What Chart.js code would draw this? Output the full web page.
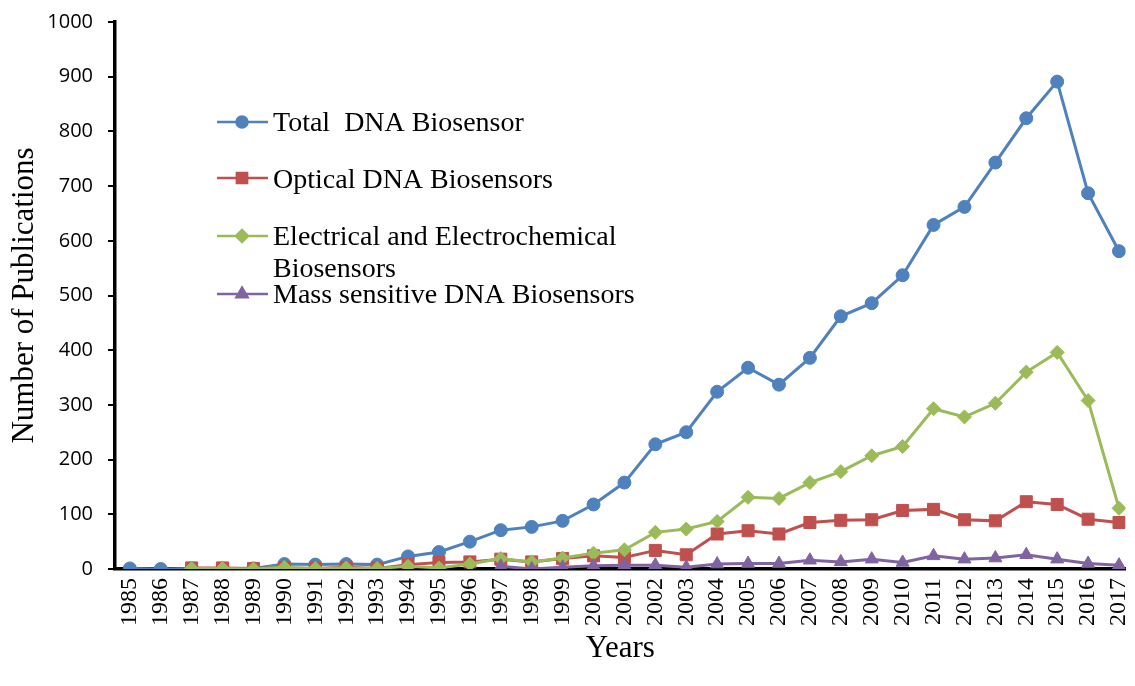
<!DOCTYPE html>
<html>
<head>
<meta charset="utf-8">
<title>DNA Biosensor Publications</title>
<script src="https://cdn.jsdelivr.net/npm/chart.js@4.4.1/dist/chart.umd.min.js"></script>
<style>
  html, body { margin: 0; padding: 0; background: #ffffff; }
  #wrap { width: 1135px; height: 686px; }
</style>
</head>
<body>
<div id="wrap"><canvas id="chart" width="1135" height="686"></canvas></div>
<script>
// Publication year
const years = [1985, 1986, 1987, 1988, 1989, 1990, 1991, 1992, 1993, 1994, 1995,
  1996, 1997, 1998, 1999, 2000, 2001, 2002, 2003, 2004, 2005, 2006,
  2007, 2008, 2009, 2010, 2011, 2012, 2013, 2014, 2015, 2016, 2017];

// Number of publications per year
const totalDNA = [1, 0, 1, 1, 1, 9, 8, 9, 8, 23, 31,
  50, 71, 77, 88, 118, 158, 228, 250, 324, 368, 337,
  386, 462, 486, 537, 629, 662, 743, 824, 891, 687, 581];
const opticalDNA = [null, null, 2, 2, 1, 2, 1, 3, 1, 8, 12,
  13, 18, 13, 19, 24, 21, 34, 26, 64, 70, 64,
  85, 89, 90, 107, 109, 90, 88, 123, 118, 91, 85];
const electroDNA = [null, null, 1, 1, 0, 3, 1, 2, 1, 5, 2,
  9, 19, 13, 20, 29, 35, 67, 73, 87, 131, 129,
  158, 178, 207, 224, 293, 278, 303, 360, 396, 308, 111];
const massDNA = [null, null, null, null, null, null, null, null, null, null, null,
  null, 5, 0, 3, 6, 7, 7, 3, 9, 10, 10,
  16, 13, 18, 12, 24, 18, 20, 26, 18, 10, 7];

// Axis ticks
const yTicks = [0, 100, 200, 300, 400, 500, 600, 700, 800, 900, 1000];

const seriesLabels = [
  ['Total  DNA Biosensor'],
  ['Optical DNA Biosensors'],
  ['Electrical and Electrochemical', 'Biosensors'],
  ['Mass sensitive DNA Biosensors']
];

const serif = "'Liberation Serif', 'Times New Roman', serif";
const sans = "'Open Sans', sans-serif";

function toPoints(values) {
  return years.map((y, i) => ({ x: y, y: values[i] }));
}

function series(label, values, color, style, radius, order) {
  return {
    label: label,
    data: toPoints(values),
    borderColor: color,
    backgroundColor: color,
    borderWidth: 3,
    pointStyle: style,
    pointRadius: radius,
    pointHoverRadius: radius,
    pointBackgroundColor: color,
    pointBorderColor: color,
    pointBorderWidth: 1,
    tension: 0,
    order: order
  };
}

// Legend drawn inside the plot area, with line + marker samples
const innerLegend = {
  id: 'innerLegend',
  afterDraw(chart) {
    const ctx = chart.ctx;
    const rows = [
      { lineY: 122, baselines: [131] },
      { lineY: 178, baselines: [188] },
      { lineY: 236, baselines: [245, 277] },
      { lineY: 294, baselines: [303] }
    ];
    ctx.save();
    chart.data.datasets.forEach((ds, i) => {
      const r = rows[i];
      ctx.strokeStyle = ds.borderColor;
      ctx.lineWidth = 2.5;
      ctx.beginPath();
      ctx.moveTo(217, r.lineY);
      ctx.lineTo(268, r.lineY);
      ctx.stroke();
      ctx.fillStyle = ds.backgroundColor;
      Chart.helpers.drawPoint(ctx, {
        pointStyle: ds.pointStyle,
        radius: ds.pointRadius * 0.85,
        rotation: 0,
        borderWidth: 1
      }, 242, r.lineY);
      ctx.fillStyle = '#000000';
      ctx.font = '28px ' + serif;
      ctx.textAlign = 'left';
      ctx.textBaseline = 'alphabetic';
      seriesLabels[i].forEach((line, k) => {
        ctx.fillText(line, 273, r.baselines[k]);
      });
    });
    ctx.restore();
  }
};

new Chart(document.getElementById('chart'), {
  type: 'line',
  data: {
    datasets: [
      series(seriesLabels[0].join(' '), totalDNA, '#4F81BD', 'circle', 6.5, 4),
      series(seriesLabels[1].join(' '), opticalDNA, '#C0504D', 'rect', 8.5, 3),
      series(seriesLabels[2].join(' '), electroDNA, '#9BBB59', 'rectRot', 7, 2),
      series(seriesLabels[3].join(' '), massDNA, '#8064A2', 'triangle', 7.5, 1)
    ]
  },
  options: {
    responsive: false,
    animation: false,
    devicePixelRatio: 1,
    layout: { padding: { top: 22, left: 0, right: 0, bottom: 0 } },
    plugins: {
      legend: { display: false },
      tooltip: { enabled: false }
    },
    scales: {
      x: {
        type: 'linear',
        min: 1984.52,
        max: 2017.21,
        afterBuildTicks(scale) {
          scale.ticks = years.map(v => ({ value: v }));
        },
        afterFit(scale) {
          scale.height = 117;
          scale.paddingLeft = 0;
          scale.paddingRight = 0;
        },
        ticks: {
          autoSkip: false,
          minRotation: 90,
          maxRotation: 90,
          padding: 9,
          color: '#000000',
          font: { family: serif, size: 24 },
          callback: v => String(v)
        },
        grid: { display: true, drawOnChartArea: false, drawTicks: false },
        border: { display: true, color: '#000000', width: 3.5 },
        title: {
          display: true,
          text: 'Years',
          color: '#000000',
          font: { family: serif, size: 31 },
          padding: { top: 0, bottom: 19 }
        }
      },
      y: {
        min: 0,
        max: 1000,
        afterBuildTicks(scale) {
          scale.ticks = yTicks.map(v => ({ value: v }));
        },
        afterFit(scale) {
          scale.width = 115;
          scale.paddingTop = 0;
          scale.paddingBottom = 0;
        },
        ticks: {
          padding: 15,
          color: '#000000',
          font: { family: sans, size: 20 },
          callback: v => String(v)
        },
        grid: {
          display: true,
          drawOnChartArea: false,
          drawTicks: true,
          tickLength: 7,
          color: '#000000',
          lineWidth: 2
        },
        border: { display: true, color: '#000000', width: 3.5 },
        title: {
          display: true,
          text: 'Number of Publications',
          color: '#000000',
          font: { family: serif, size: 31 },
          padding: { top: 6, bottom: 0 }
        }
      }
    }
  },
  plugins: [innerLegend]
});
</script>
</body>
</html>
